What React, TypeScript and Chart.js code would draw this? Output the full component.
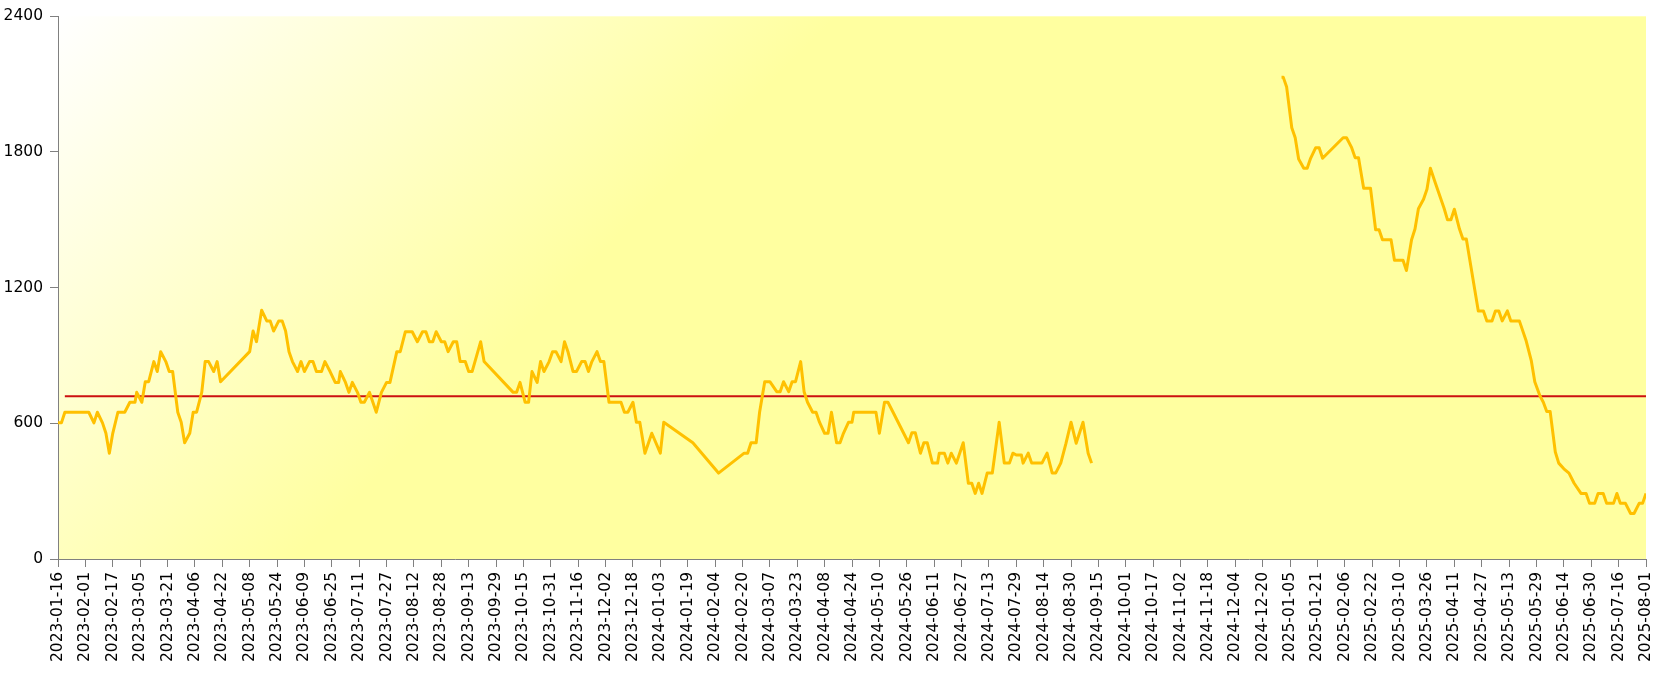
import React, { useEffect, useRef } from "react";
import { Chart, registerables } from "chart.js";

Chart.register(...registerables);

const START_DATE = "2023-01-16";
const END_DATE = "2025-08-01";
const TICK_STEP_DAYS = 16;
const yTickValues = [0, 600, 1200, 1800, 2400];

const dates = [
  "2023-01-16", "2023-01-18", "2023-01-20", "2023-02-03", "2023-02-06", "2023-02-08", "2023-02-11", "2023-02-13",
  "2023-02-15", "2023-02-17", "2023-02-20", "2023-02-24", "2023-02-27", "2023-03-02", "2023-03-03", "2023-03-06",
  "2023-03-08", "2023-03-10", "2023-03-13", "2023-03-15", "2023-03-17", "2023-03-20", "2023-03-22", "2023-03-24",
  "2023-03-27", "2023-03-29", "2023-03-31", "2023-04-03", "2023-04-05", "2023-04-07", "2023-04-10", "2023-04-12",
  "2023-04-14", "2023-04-17", "2023-04-19", "2023-04-21", "2023-05-08", "2023-05-10", "2023-05-12", "2023-05-15",
  "2023-05-18", "2023-05-20", "2023-05-22", "2023-05-25", "2023-05-27", "2023-05-29", "2023-05-31", "2023-06-02",
  "2023-06-05", "2023-06-07", "2023-06-09", "2023-06-12", "2023-06-14", "2023-06-16", "2023-06-19", "2023-06-21",
  "2023-06-24", "2023-06-27", "2023-06-29", "2023-06-30", "2023-07-03", "2023-07-05", "2023-07-07", "2023-07-10",
  "2023-07-12", "2023-07-14", "2023-07-17", "2023-07-21", "2023-07-24", "2023-07-27", "2023-07-29", "2023-08-02",
  "2023-08-04", "2023-08-07", "2023-08-11", "2023-08-14", "2023-08-17", "2023-08-19", "2023-08-21", "2023-08-23",
  "2023-08-25", "2023-08-28", "2023-08-30", "2023-09-01", "2023-09-04", "2023-09-06", "2023-09-08", "2023-09-11",
  "2023-09-13", "2023-09-15", "2023-09-20", "2023-09-22", "2023-10-09", "2023-10-11", "2023-10-13", "2023-10-16",
  "2023-10-18", "2023-10-20", "2023-10-23", "2023-10-25", "2023-10-27", "2023-10-30", "2023-11-01", "2023-11-03",
  "2023-11-06", "2023-11-08", "2023-11-10", "2023-11-13", "2023-11-15", "2023-11-18", "2023-11-20", "2023-11-22",
  "2023-11-24", "2023-11-27", "2023-11-29", "2023-12-01", "2023-12-04", "2023-12-08", "2023-12-11", "2023-12-13",
  "2023-12-15", "2023-12-18", "2023-12-20", "2023-12-22", "2023-12-25", "2023-12-29", "2024-01-03", "2024-01-05",
  "2024-01-22", "2024-02-06", "2024-02-21", "2024-02-23", "2024-02-25", "2024-02-28", "2024-03-01", "2024-03-04",
  "2024-03-07", "2024-03-11", "2024-03-13", "2024-03-15", "2024-03-18", "2024-03-20", "2024-03-22", "2024-03-25",
  "2024-03-27", "2024-03-29", "2024-04-01", "2024-04-03", "2024-04-05", "2024-04-08", "2024-04-10", "2024-04-12",
  "2024-04-15", "2024-04-17", "2024-04-19", "2024-04-22", "2024-04-24", "2024-04-25", "2024-05-08", "2024-05-10",
  "2024-05-13", "2024-05-15", "2024-05-18", "2024-05-27", "2024-05-29", "2024-05-31", "2024-06-03", "2024-06-05",
  "2024-06-07", "2024-06-10", "2024-06-13", "2024-06-14", "2024-06-17", "2024-06-19", "2024-06-21", "2024-06-24",
  "2024-06-28", "2024-07-01", "2024-07-03", "2024-07-05", "2024-07-07", "2024-07-09", "2024-07-12", "2024-07-15",
  "2024-07-19", "2024-07-22", "2024-07-25", "2024-07-27", "2024-07-29", "2024-08-01", "2024-08-02", "2024-08-05",
  "2024-08-07", "2024-08-13", "2024-08-16", "2024-08-19", "2024-08-21", "2024-08-24", "2024-08-27", "2024-08-30",
  "2024-09-02", "2024-09-06", "2024-09-09", "2024-09-11", "2024-11-01", "2024-12-31", "2025-01-01", "2025-01-03",
  "2025-01-06", "2025-01-08", "2025-01-10", "2025-01-13", "2025-01-15", "2025-01-17", "2025-01-20", "2025-01-22",
  "2025-01-24", "2025-02-05", "2025-02-07", "2025-02-10", "2025-02-12", "2025-02-14", "2025-02-17", "2025-02-21",
  "2025-02-24", "2025-02-26", "2025-02-28", "2025-03-05", "2025-03-07", "2025-03-12", "2025-03-14", "2025-03-17",
  "2025-03-19", "2025-03-21", "2025-03-24", "2025-03-26", "2025-03-28", "2025-03-31", "2025-04-05", "2025-04-07",
  "2025-04-09", "2025-04-11", "2025-04-14", "2025-04-16", "2025-04-18", "2025-04-25", "2025-04-28", "2025-04-30",
  "2025-05-03", "2025-05-05", "2025-05-07", "2025-05-09", "2025-05-12", "2025-05-14", "2025-05-19", "2025-05-23",
  "2025-05-26", "2025-05-28", "2025-05-31", "2025-06-02", "2025-06-04", "2025-06-06", "2025-06-09", "2025-06-11",
  "2025-06-14", "2025-06-17", "2025-06-20", "2025-06-24", "2025-06-27", "2025-06-29", "2025-07-02", "2025-07-04",
  "2025-07-07", "2025-07-09", "2025-07-13", "2025-07-15", "2025-07-17", "2025-07-20", "2025-07-23", "2025-07-25",
  "2025-07-28", "2025-07-30", "2025-08-01",
];

const values: (number | null)[] = [
  602, 602, 649, 649, 602, 649, 602, 556,
  468, 556, 649, 649, 693, 693, 737, 693,
  784, 784, 873, 829, 917, 873, 829, 829,
  649, 605, 514, 556, 649, 649, 737, 873,
  873, 829, 873, 784, 917, 1008, 961, 1100,
  1053, 1053, 1008, 1053, 1053, 1008, 917, 873,
  829, 873, 829, 873, 873, 829, 829, 873,
  829, 781, 781, 829, 781, 737, 781, 737,
  693, 693, 737, 649, 737, 781, 781, 917,
  917, 1005, 1005, 961, 1005, 1005, 961, 961,
  1005, 961, 961, 917, 961, 961, 873, 873,
  829, 829, 961, 873, 737, 737, 781, 693,
  693, 829, 781, 873, 829, 873, 917, 917,
  873, 961, 917, 829, 829, 873, 873, 829,
  873, 917, 873, 873, 693, 693, 693, 649,
  649, 693, 605, 605, 468, 556, 468, 605,
  514, 380, 468, 468, 514, 514, 649, 784,
  784, 740, 740, 784, 740, 784, 784, 873,
  740, 693, 649, 649, 605, 556, 556, 649,
  514, 514, 556, 605, 605, 649, 649, 556,
  693, 693, 649, 514, 558, 558, 468, 514,
  514, 424, 424, 468, 468, 424, 468, 424,
  514, 335, 335, 290, 335, 290, 380, 380,
  605, 424, 424, 468, 460, 460, 424, 468,
  424, 424, 468, 380, 380, 424, 510, 605,
  512, 605, 468, 424, null, 2131, 2131, 2087,
  1907, 1863, 1769, 1728, 1728, 1772, 1819, 1819,
  1772, 1863, 1863, 1819, 1775, 1775, 1640, 1640,
  1456, 1456, 1412, 1412, 1321, 1321, 1276, 1412,
  1459, 1549, 1591, 1635, 1728, 1661, 1551, 1500,
  1500, 1547, 1459, 1415, 1415, 1097, 1097, 1053,
  1053, 1097, 1097, 1053, 1097, 1053, 1053, 964,
  876, 784, 722, 693, 652, 652, 473, 424,
  399, 380, 335, 290, 290, 246, 246, 290,
  290, 246, 246, 290, 246, 246, 201, 201,
  246, 246, 290,
];

const referenceDates = ["2023-01-20", "2025-08-01"];
const referenceValues = [720, 720];

const DAY_MS = 86400000;
const startMs = Date.parse(START_DATE);
const toDay = (d: string) => Math.round((Date.parse(d) - startMs) / DAY_MS);
const toLabel = (day: number) => new Date(startMs + day * DAY_MS).toISOString().slice(0, 10);

const bgPlugin = {
  id: "bgGradient",
  beforeDraw(chart: any) {
    const { ctx, chartArea } = chart;
    if (!chartArea) return;
    const { left, top, right, bottom } = chartArea;
    const g = ctx.createLinearGradient(left, top, left + 390, top + 390);
    g.addColorStop(0, "#FFFFFF");
    g.addColorStop(1, "#FFFFA0");
    ctx.save();
    ctx.fillStyle = g;
    ctx.fillRect(left, top, right - left, bottom - top);
    ctx.restore();
  },
};

export default function App() {
  const canvasRef = useRef<HTMLCanvasElement | null>(null);

  useEffect(() => {
    const canvas = canvasRef.current;
    if (!canvas) return;
    const endDay = toDay(END_DATE);
    const tickDays: number[] = [];
    for (let d = 0; d <= endDay; d += TICK_STEP_DAYS) tickDays.push(d);

    const font = { family: "'DejaVu Sans', sans-serif", size: 15.5 };

    const chart = new Chart(canvas, {
      type: "line",
      data: {
        datasets: [
          {
            label: "series",
            data: dates.map((d, i) => ({ x: toDay(d), y: values[i] })),
            borderColor: "#FFC000",
            borderWidth: 3,
            pointRadius: 0,
            tension: 0,
            spanGaps: false,
            borderJoinStyle: "round",
            fill: false,
          },
          {
            label: "reference",
            data: referenceDates.map((d, i) => ({ x: toDay(d), y: referenceValues[i] })),
            borderColor: "#CC1010",
            borderWidth: 2,
            pointRadius: 0,
            tension: 0,
            fill: false,
          },
        ],
      },
      options: {
        animation: false,
        responsive: false,
        events: [],
        layout: { padding: { left: 0, top: 14, right: 20, bottom: 0 } },
        plugins: {
          legend: { display: false },
          tooltip: { enabled: false },
        },
        scales: {
          x: {
            type: "linear",
            min: 0,
            max: endDay,
            afterBuildTicks: (scale: any) => {
              scale.ticks = tickDays.map((v) => ({ value: v }));
            },
            afterFit: (scale: any) => {
              scale.height = 130;
              scale.paddingLeft = 0;
              scale.paddingRight = 0;
            },
            ticks: {
              autoSkip: false,
              maxRotation: 90,
              minRotation: 90,
              padding: 5,
              color: "#000000",
              font,
              callback: (v: any) => toLabel(Number(v)),
            },
            grid: { drawOnChartArea: false, drawTicks: true, tickLength: 8, color: "#808080" },
            border: { display: true, color: "#808080", width: 1 },
          },
          y: {
            type: "linear",
            min: 0,
            max: 2400,
            afterBuildTicks: (scale: any) => {
              scale.ticks = yTickValues.map((v) => ({ value: v }));
            },
            afterFit: (scale: any) => {
              scale.width = 58;
            },
            ticks: {
              padding: 7,
              color: "#000000",
              font,
              callback: (v: any) => String(v),
            },
            grid: { drawOnChartArea: false, drawTicks: true, tickLength: 8, color: "#808080" },
            border: { display: true, color: "#808080", width: 1 },
          },
        },
      },
      plugins: [bgPlugin],
    } as any);

    return () => chart.destroy();
  }, []);

  return (
    <div style={{ position: "absolute", left: 0, top: 0, width: 1666, height: 689, background: "#FFFFFF" }}>
      <canvas ref={canvasRef} width={1666} height={689} style={{ width: 1666, height: 689, display: "block" }} />
    </div>
  );
}
